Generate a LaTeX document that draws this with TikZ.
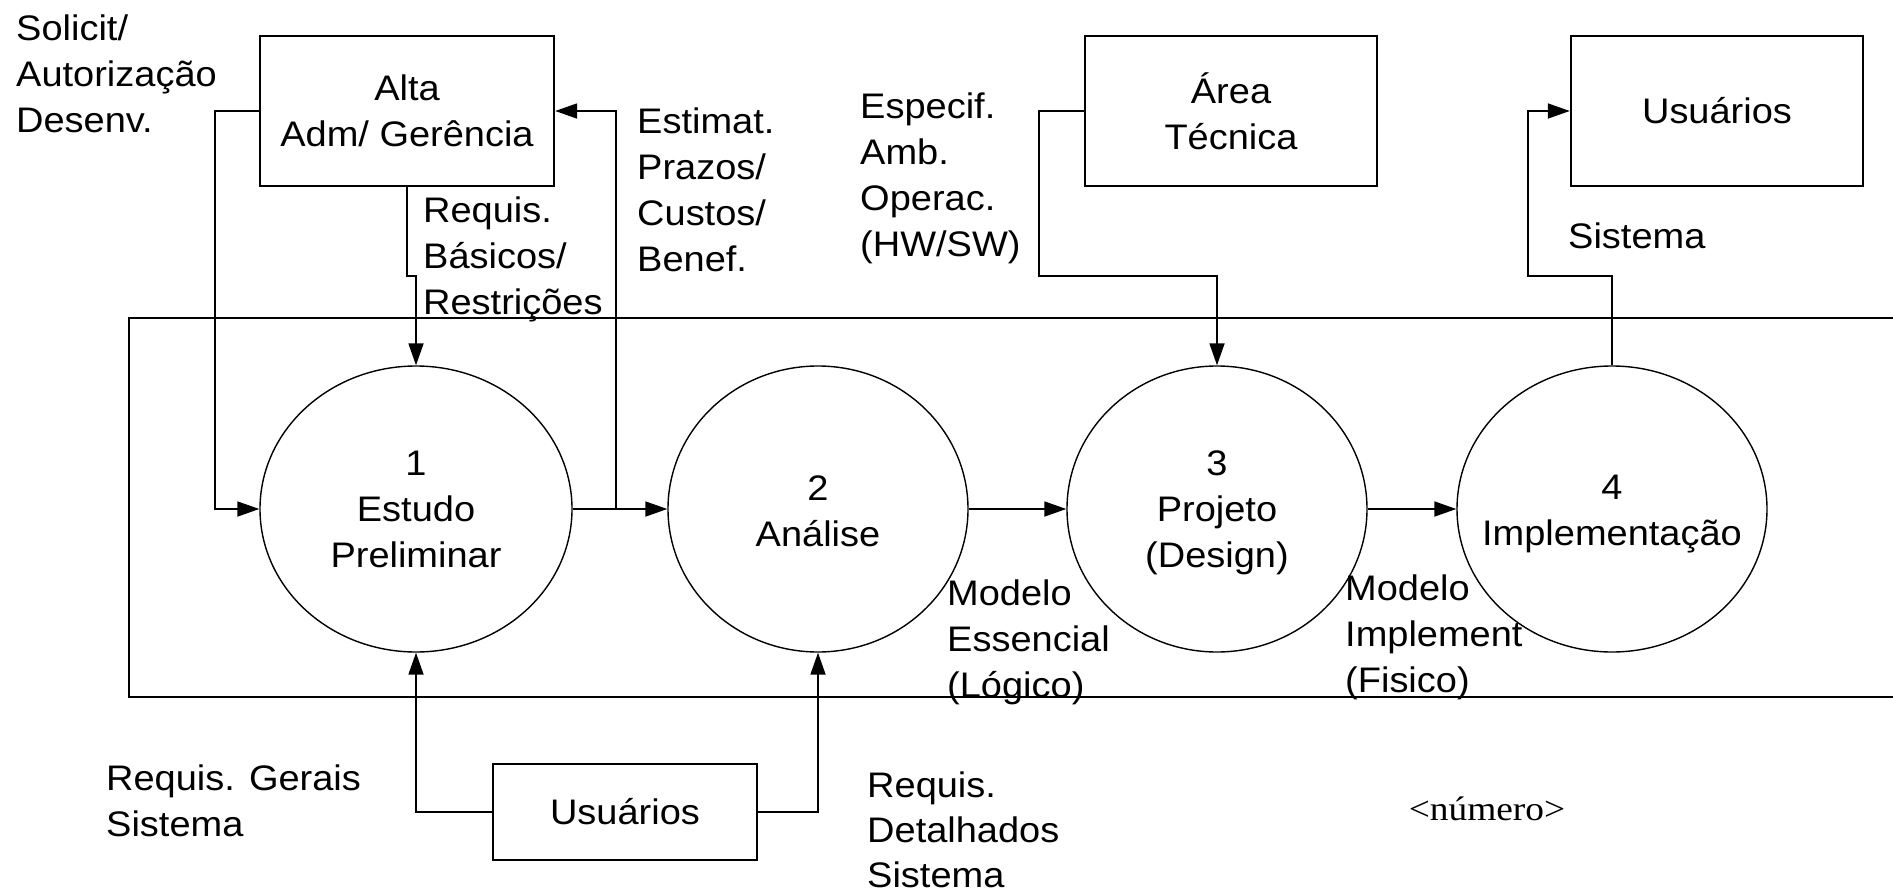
\documentclass[tikz,border=0pt]{standalone}
\usepackage{fontspec}
\setmainfont{Liberation Sans}[FakeStretch=1.07]
\newfontfamily\seriffont{Liberation Serif}[FakeStretch=1.1]
\usetikzlibrary{shapes.geometric,arrows.meta}
\newcommand\fs{\rule{0pt}{34pt}}
\tikzset{
  box/.style={draw, line width=2.4pt, rectangle, inner sep=0pt, align=center},
  proc/.style={draw, ellipse, line width=1.4pt, inner sep=0pt},
  conn/.style={line width=1.8pt, -{Triangle[length=22pt,width=15pt]}},
  frame/.style={line width=2.4pt},
  lbl/.style={inner sep=0pt, align=left, anchor=north west},
  ctext/.style={inner sep=0pt, align=center, anchor=north},
}
\begin{document}
\begin{tikzpicture}[x=1pt,y=-1pt,font=\fontsize{35.5}{46}\selectfont]
\useasboundingbox (0,0) rectangle (1893,894);
% frame (open on the right)
\draw[frame] (1893,318) -- (129,318) -- (129,697) -- (1893,697);
% top boxes
\node[box, minimum width=294pt, minimum height=150pt] (alta) at (407,111) {Alta\\Adm/ Gerência};
\node[box, minimum width=292pt, minimum height=150pt] (area) at (1231,111) {Área\\Técnica};
\node[box, minimum width=292pt, minimum height=150pt] (usr) at (1717,111) {Usuários};
% bottom box
\node[box, minimum width=264pt, minimum height=96pt] (usb) at (625,812) {Usuários};
% processes
\node[proc, minimum width=312pt, minimum height=286pt] (c1) at (416,509) {};
\node[proc, minimum width=300pt, minimum height=286pt] (c2) at (818,509) {};
\node[proc, minimum width=300pt, minimum height=286pt] (c3) at (1217,509) {};
\node[proc, minimum width=310pt, minimum height=286pt] (c4) at (1612,509) {};
\node[ctext] (t1) at (416,441) {\fs 1\\Estudo\\Preliminar};
\node[ctext] (t2) at (818,466) {\fs 2\\Análise};
\node[ctext] (t3) at (1217,441) {\fs 3\\Projeto\\(Design)};
\node[ctext] (t4) at (1612,465) {\fs 4\\Implementação};
% connectors
\coordinate (j1) at (616,509);
\draw[conn] (alta.west) -- ++(-44,0) |- (c1.west);
\draw[conn] (alta.south) -- ++(0,89) -| (c1.north);
\draw[conn] (c1.east) -- (c2.west);
\draw[conn] (j1) |- (alta.east);
\draw[conn] (c2.east) -- (c3.west);
\draw[conn] (c3.east) -- (c4.west);
\draw[conn] (area.west) -- ++(-45,0) -- ++(0,165) -| (c3.north);
\coordinate (k1) at (1528,276);
\draw[conn] (c4.north) -- (c4.north |- k1) -- (k1) |- (usr.west);
\draw[conn] (usb.west) -| (c1.south);
\draw[conn] (usb.east) -| (c2.south);
% labels
\node[lbl] (lsol) at (16,6) {\fs Solicit/\\Autorização\\Desenv.};
\node[lbl] (lreq) at (423,188) {\fs Requis.\\Básicos/\\Restrições};
\node[lbl] (lest) at (637,99) {\fs Estimat.\\Prazos/\\Custos/\\Benef.};
\node[lbl] (lesp) at (860,84) {\fs Especif.\\Amb.\\Operac.\\(HW/SW)};
\node[lbl] (lsis) at (1568,214) {\fs Sistema};
\node[lbl] (lme) at (947,571) {\fs Modelo\\Essencial\\(Lógico)};
\node[lbl] (lmi) at (1345,566) {\fs Modelo\\Implement\\(Fisico)};
\node[lbl] (lrg) at (106,756) {\fs Requis. Gerais\\Sistema};
\node[lbl, font=\fontsize{35.5}{45}\selectfont] (lrd) at (867,763) {\fs Requis.\\Detalhados\\Sistema};
\node[inner sep=0pt, anchor=base, font=\seriffont\fontsize{34}{40}\selectfont] (lnum) at (1487,820) {<número>};
\end{tikzpicture}
\end{document}
